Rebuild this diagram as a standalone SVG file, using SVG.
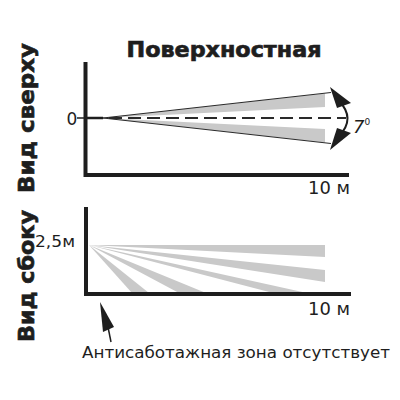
<svg xmlns="http://www.w3.org/2000/svg" width="400" height="400" viewBox="0 0 400 400">
<style>
.t{font-family:"DejaVu Sans","Liberation Sans",sans-serif;fill:#1e1e1e}
.b{font-weight:bold;stroke:#1e1e1e;stroke-width:0.7}
.ax{stroke:#1e1e1e;stroke-width:4;fill:none;stroke-linecap:square}
.g{fill:#c9c9c9}
.ln{stroke:#2a2a2a;stroke-width:1.2;fill:none}
</style>
<rect width="400" height="400" fill="#fff"/>
<text class="t b" x="224" y="57" font-size="22" text-anchor="middle" textLength="195" lengthAdjust="spacingAndGlyphs">Поверхностная</text>
<text class="t b" transform="translate(34,118) rotate(-90)" font-size="22" text-anchor="middle" textLength="150" lengthAdjust="spacingAndGlyphs">Вид сверху</text>
<text class="t b" transform="translate(34,276) rotate(-90)" font-size="22" text-anchor="middle" textLength="132" lengthAdjust="spacingAndGlyphs">Вид сбоку</text>

<g id="top-view">
<polygon class="g" points="103,118 325,93.5 325,107"/>
<polygon class="g" points="103,118 325,129 325,142.5"/>
<line class="ln" x1="103" y1="118" x2="331" y2="92.5"/>
<line class="ln" x1="103" y1="118" x2="331" y2="143.5"/>
<line x1="85" y1="118" x2="103" y2="118" stroke="#1e1e1e" stroke-width="2.5"/>
<line x1="109" y1="118" x2="346" y2="118" stroke="#2a2a2a" stroke-width="2" stroke-dasharray="13 6"/>
<path class="ax" d="M85.5 64 V175 H347"/>
<line x1="77" y1="118" x2="86" y2="118" stroke="#1e1e1e" stroke-width="1.5"/>
<text class="t" x="72" y="125" font-size="17" text-anchor="middle">0</text>
<text class="t" x="308" y="194" font-size="17" textLength="42" lengthAdjust="spacingAndGlyphs">10 м</text>
</g>

<g id="angle">
<path d="M339 101 Q356 118.5 339 136" stroke="#1e1e1e" stroke-width="2" fill="none"/>
<polygon points="330,87 351,103 337,108" fill="#1e1e1e"/>
<polygon points="330,150 351,133 337,128" fill="#1e1e1e"/>
<text class="t" x="353" y="133" font-size="18" font-style="italic">7<tspan font-size="9" dy="-8" font-style="normal">0</tspan></text>
</g>

<g id="side-view">
<polygon class="g" points="89,245 325,245 325,257"/>
<polygon class="g" points="89,245 325,270 325,282"/>
<polygon class="g" points="89,245 273,293 307,293"/>
<polygon class="g" points="89,245 179,293 206,293"/>
<polygon class="g" points="89,245 132,293 149,293"/>
<path class="ax" d="M86 209 V294 H349"/>
<text class="t" x="35" y="247" font-size="16" textLength="40" lengthAdjust="spacingAndGlyphs">2,5м</text>
<text class="t" x="308" y="315" font-size="17" textLength="42" lengthAdjust="spacingAndGlyphs">10 м</text>
</g>

<g id="connectors">
<polygon points="100,302 114,327 103,332" fill="#1e1e1e"/>
<line x1="108" y1="327" x2="111" y2="342" stroke="#1e1e1e" stroke-width="1.5"/>
</g>

<text class="t" x="82" y="358" font-size="16" textLength="308" lengthAdjust="spacingAndGlyphs">Антисаботажная зона отсутствует</text>
</svg>
